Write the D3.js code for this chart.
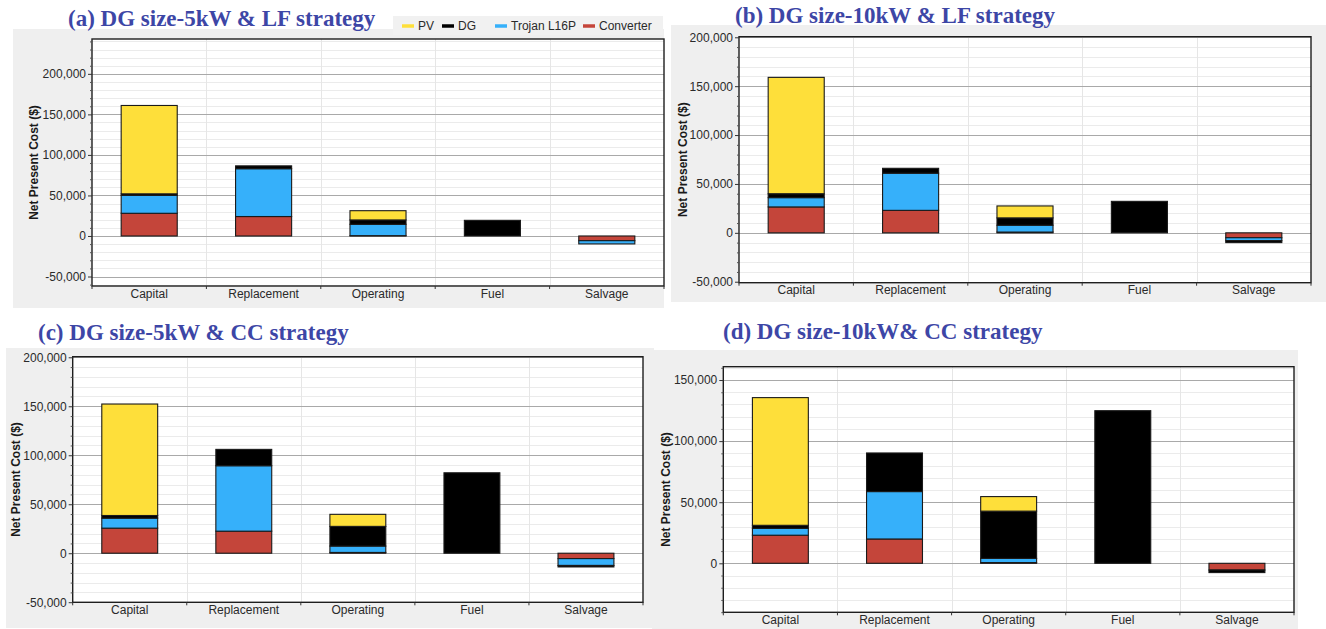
<!DOCTYPE html>
<html>
<head>
<meta charset="utf-8">
<script src="https://cdn.jsdelivr.net/npm/d3@7"></script>
<style>
  body { margin: 0; background: #fff; }
  svg { display: block; }
</style>
</head>
<body>
<svg id="chart" width="1326" height="629"></svg>
<script>
// Cost categories along the x axis
const categories = ["Capital", "Replacement", "Operating", "Fuel", "Salvage"];
// Stack order from the zero line outward
const seriesKeys = ["Converter", "Trojan L16P", "DG", "PV"];
const legendOrder = ["PV", "DG", "Trojan L16P", "Converter"];
const seriesColors = ["#c4453a", "#36b0fa", "#000000", "#fedf3a"];

// (a) 5 kW DG, load-following dispatch — net present cost ($)
const aConverter = [28000, 24000, 400, 0, -5800];
const aTrojan    = [22000, 59000, 14000, 0, -4000];
const aDG        = [2000, 3500, 5400, 19300, 0];
const aPV        = [109000, 0, 11400, 0, 0];

// (b) 10 kW DG, load-following dispatch
const bConverter = [26500, 23000, 800, 0, -5000];
const bTrojan    = [9500, 38000, 7000, 0, -3000];
const bDG        = [4000, 5000, 7500, 32200, -2000];
const bPV        = [119000, 0, 12200, 0, 0];

// (c) 5 kW DG, cycle-charging dispatch
const cConverter = [25600, 22500, 800, 0, -5500];
const cTrojan    = [10200, 66800, 6500, 0, -7000];
const cDG        = [2700, 16700, 20100, 82100, -1500];
const cPV        = [113800, 0, 12300, 0, 0];

// (d) 10 kW DG, cycle-charging dispatch
const dConverter = [23000, 19900, 600, 0, -5500];
const dTrojan    = [5600, 38800, 3400, 0, 0];
const dDG        = [2500, 31600, 38700, 124900, -2100];
const dPV        = [104500, 0, 11900, 0, 0];

// Y-axis tick labels per panel
const ticksABC = [-50000, 0, 50000, 100000, 150000, 200000];
const ticksD   = [0, 50000, 100000, 150000];

const panelTitles = [
  "(a) DG size-5kW & LF strategy",
  "(b) DG size-10kW & LF strategy",
  "(c) DG size-5kW & CC strategy",
  "(d) DG size-10kW& CC strategy"
];

const panelSeries = [
  [aConverter, aTrojan, aDG, aPV],
  [bConverter, bTrojan, bDG, bPV],
  [cConverter, cTrojan, cDG, cPV],
  [dConverter, dTrojan, dDG, dPV]
];

// Layout of each panel on the page
const layouts = [
  { bg: [13, 29, 651, 279], frame: [92, 39, 664, 286], domain: [-61700, 243000], ticks: ticksABC,
    titleX: 68, titleY: 26, ylabX: 34 },
  { bg: [671, 25, 655, 277], frame: [739, 36.7, 1311, 282.7], domain: [-51000, 200600], ticks: ticksABC,
    titleX: 735, titleY: 23, ylabX: 683 },
  { bg: [6, 348, 648, 280], frame: [72.7, 356.7, 643, 602.3], domain: [-50100, 200600], ticks: ticksABC,
    titleX: 38, titleY: 340, ylabX: 16 },
  { bg: [652, 350, 646, 279], frame: [723.3, 366.7, 1294, 612.3], domain: [-40100, 160900], ticks: ticksD,
    titleX: 723, titleY: 339, ylabX: 666 }
];

const svg = d3.select("#chart");
svg.append("rect").attr("width", 1326).attr("height", 629).attr("fill", "#ffffff");

const fmt = d => d3.format(",")(d).replace("\u2212", "-");
const color = d3.scaleOrdinal().domain(seriesKeys).range(seriesColors);

layouts.forEach((L, p) => {
  const g = svg.append("g");
  const [x0, y0, x1, y1] = L.frame;

  // panel background
  g.append("rect")
    .attr("x", L.bg[0]).attr("y", L.bg[1])
    .attr("width", L.bg[2]).attr("height", L.bg[3])
    .attr("fill", "#efefef");

  // title
  g.append("text")
    .attr("x", L.titleX).attr("y", L.titleY)
    .attr("font-family", "'Liberation Serif', 'Times New Roman', serif")
    .attr("font-weight", "bold")
    .attr("font-size", 23)
    .attr("fill", "#3d46a6")
    .text(panelTitles[p]);

  // plot area
  g.append("rect")
    .attr("x", x0).attr("y", y0)
    .attr("width", x1 - x0).attr("height", y1 - y0)
    .attr("fill", "#ffffff");

  const x = d3.scaleBand().domain(categories).range([x0, x1])
    .paddingInner(0.51).paddingOuter(0.255);
  const y = d3.scaleLinear().domain(L.domain).range([y1, y0]);
  const step = x.step();

  // minor horizontal grid every 10,000
  const minor = d3.range(Math.ceil(L.domain[0] / 10000) * 10000, L.domain[1] + 1, 10000)
    .filter(v => !L.ticks.includes(v));
  g.append("g").selectAll("line").data(minor).join("line")
    .attr("x1", x0).attr("x2", x1)
    .attr("y1", d => Math.round(y(d)) + 0.5).attr("y2", d => Math.round(y(d)) + 0.5)
    .attr("stroke", "#ebebeb").attr("stroke-width", 1);

  // vertical separators between categories
  g.append("g").selectAll("line").data(d3.range(1, categories.length)).join("line")
    .attr("x1", i => Math.round(x0 + i * step) + 0.5).attr("x2", i => Math.round(x0 + i * step) + 0.5)
    .attr("y1", y0).attr("y2", y1)
    .attr("stroke", "#e6e6e6").attr("stroke-width", 1);

  // major horizontal grid
  g.append("g").selectAll("line").data(L.ticks).join("line")
    .attr("x1", x0).attr("x2", x1)
    .attr("y1", d => Math.round(y(d)) + 0.5).attr("y2", d => Math.round(y(d)) + 0.5)
    .attr("stroke", "#a9a9a9").attr("stroke-width", 1);

  // stacked bars
  const rows = categories.map((c, i) => {
    const r = { category: c };
    seriesKeys.forEach((k, j) => { r[k] = panelSeries[p][j][i]; });
    return r;
  });
  const stacked = d3.stack().keys(seriesKeys).offset(d3.stackOffsetDiverging)(rows);

  g.append("g").selectAll("g").data(stacked).join("g")
    .attr("fill", s => color(s.key))
    .selectAll("rect")
    .data(s => s.filter(d => d[0] !== d[1]))
    .join("rect")
    .attr("x", d => x(d.data.category))
    .attr("width", x.bandwidth())
    .attr("y", d => y(Math.max(d[0], d[1])))
    .attr("height", d => Math.abs(y(d[0]) - y(d[1])))
    .attr("stroke", "#1a1a1a")
    .attr("stroke-width", 1.1);

  // frame
  g.append("rect")
    .attr("x", x0).attr("y", y0)
    .attr("width", x1 - x0).attr("height", y1 - y0)
    .attr("fill", "none").attr("stroke", "#1e1e1e").attr("stroke-width", 1.4);

  // y axis: major ticks with labels, plus minor ticks
  const yAxis = g.append("g").attr("transform", `translate(${x0},0)`)
    .call(d3.axisLeft(y).tickValues(L.ticks).tickFormat(fmt).tickSize(4).tickPadding(2));
  yAxis.select(".domain").remove();
  yAxis.selectAll("line").attr("stroke", "#333");
  yAxis.selectAll("text")
    .attr("font-family", "'Liberation Sans', Arial, sans-serif")
    .attr("font-size", 12).attr("fill", "#2a2a2a");

  const yMinor = g.append("g").attr("transform", `translate(${x0},0)`)
    .call(d3.axisLeft(y).tickValues(minor).tickFormat("").tickSize(2));
  yMinor.select(".domain").remove();
  yMinor.selectAll("line").attr("stroke", "#555");

  // x axis labels and category boundary ticks
  const xAxis = g.append("g").attr("transform", `translate(0,${y1})`)
    .call(d3.axisBottom(x).tickSize(0).tickPadding(3));
  xAxis.select(".domain").remove();
  xAxis.selectAll("text")
    .attr("font-family", "'Liberation Sans', Arial, sans-serif")
    .attr("font-size", 12).attr("fill", "#2a2a2a");
  g.append("g").selectAll("line").data(d3.range(0, categories.length + 1)).join("line")
    .attr("x1", i => x0 + i * step).attr("x2", i => x0 + i * step)
    .attr("y1", y1).attr("y2", y1 + 3)
    .attr("stroke", "#333");

  // y axis title
  g.append("text")
    .attr("transform", `translate(${L.ylabX},${(y0 + y1) / 2}) rotate(-90)`)
    .attr("text-anchor", "middle")
    .attr("dominant-baseline", "central")
    .attr("font-family", "'Liberation Sans', Arial, sans-serif")
    .attr("font-weight", "bold")
    .attr("font-size", 12)
    .attr("fill", "#1a1a1a")
    .text("Net Present Cost ($)");
});

// legend for the series (top right of panel a)
const legend = svg.append("g");
legend.append("rect").attr("x", 393).attr("y", 16).attr("width", 270).attr("height", 19).attr("fill", "#f1f1f1");
const legendX = [402, 442, 495, 583];
legendOrder.forEach((k, i) => {
  const item = legend.append("g").attr("transform", `translate(${legendX[i]},26)`);
  item.append("line").attr("x1", 0).attr("x2", 12).attr("y1", 0).attr("y2", 0)
    .attr("stroke", color(k)).attr("stroke-width", 3.5);
  item.append("text").attr("x", 16).attr("y", 0)
    .attr("dominant-baseline", "central")
    .attr("font-family", "'Liberation Sans', Arial, sans-serif")
    .attr("font-size", 12).attr("fill", "#2a2a2a")
    .text(k);
});
</script>
</body>
</html>
